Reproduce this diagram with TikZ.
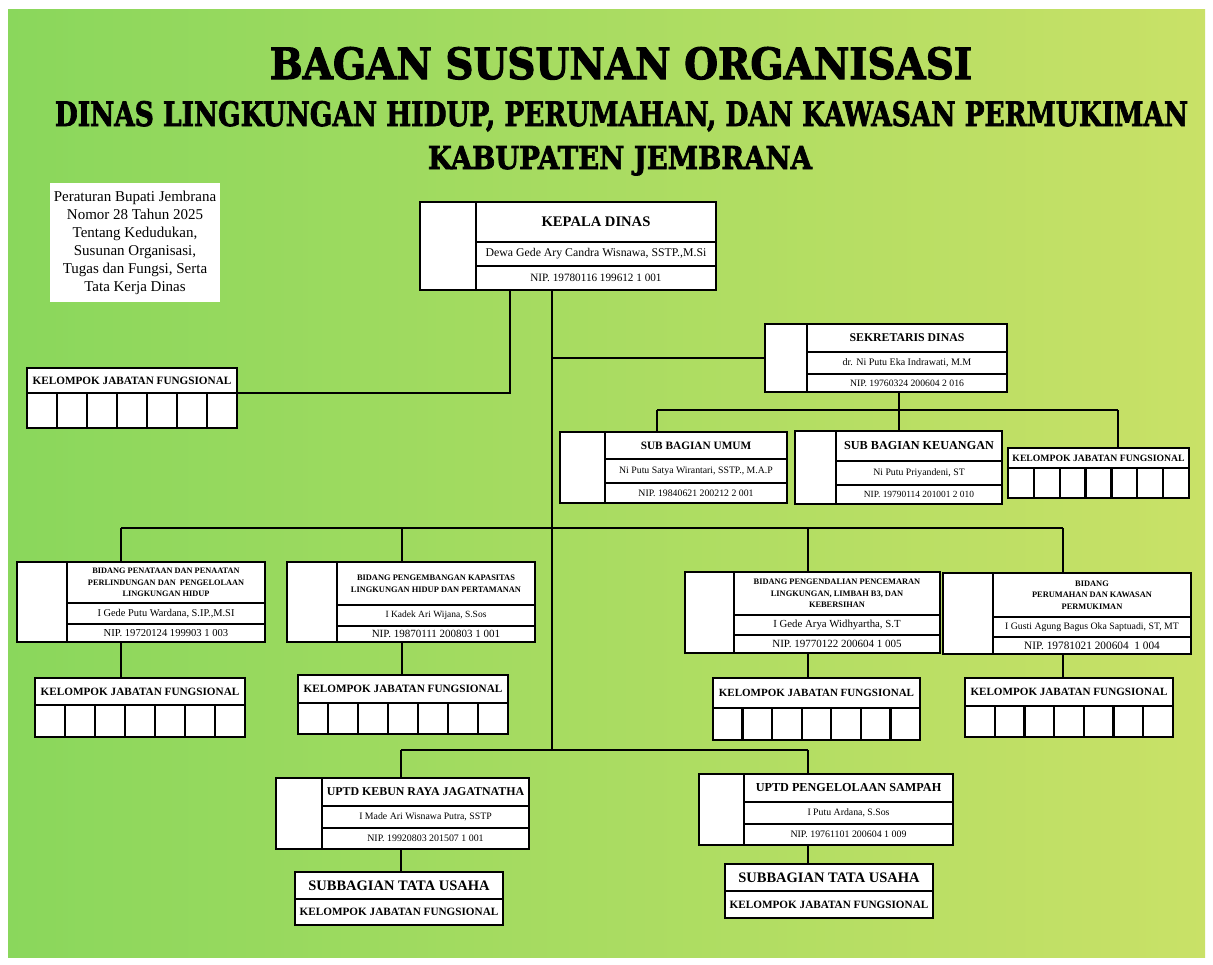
\documentclass[tikz,border=0pt]{standalone}
\usepackage{fontspec}
\usepackage{graphicx}
\setmainfont{Liberation Serif}
\newfontfamily\titlefont{DejaVu Serif}[BoldFeatures={FakeBold=2.5}]
\definecolor{bgL}{RGB}{138,215,92}
\definecolor{bgR}{RGB}{201,225,103}
\newcommand\fsz[2]{\fontsize{#1}{#2}\selectfont}
\tikzset{
  cell/.style={draw=black, fill=white, line width=2.4pt, inner sep=1pt, outer sep=0pt, anchor=north west, align=center, text=black},
  conn/.style={draw=black, line width=2pt},
  titletext/.style={anchor=base, inner sep=0pt, text=black},
  notebox/.style={fill=white, inner sep=0pt, align=center, text=black}
}
\newcommand\photo[5]{\node[cell,minimum width=#4,minimum height=#5] (#1) at (#2,#3) {};}
\newcommand\orgrow[7][]{\node[cell,minimum width=#5,minimum height=#6,#1] (#2) at (#3,#4) {#7};}
\newcommand\kjf[7]{%
  \node[cell,minimum width=#4,minimum height=#5,font=\fsz{#7}{#7}\bfseries] (#1-t) at (#2,#3) {KELOMPOK JABATAN FUNGSIONAL};
  \foreach \k in {0,...,6}{\node[cell,minimum width=#4/7,minimum height=#6] (#1-c\k) at ({#2+\k*#4/7},{#3+#5}) {};}
}
\begin{document}
\begin{tikzpicture}[x=1pt,y=-1pt]
\fill[white] (0,0) rectangle (1213,964);
\useasboundingbox (0,0) rectangle (1213,964);
\shade[left color=bgL, right color=bgR] (8,9) rectangle (1205,957);

% titles
\node[titletext] (t1) at (621,79) {\resizebox{702pt}{32pt}{\titlefont\bfseries BAGAN SUSUNAN ORGANISASI}};
\node[titletext] (t2) at (621.5,126) {\resizebox{1133pt}{25pt}{\titlefont\bfseries DINAS LINGKUNGAN HIDUP, PERUMAHAN, DAN KAWASAN PERMUKIMAN}};
\node[titletext] (t3) at (620,169) {\resizebox{384pt}{23pt}{\titlefont\bfseries KABUPATEN JEMBRANA}};

% note
\node[notebox, minimum width=170, minimum height=119, font=\fsz{15}{18}] (note) at (135,242.5)
  {Peraturan Bupati Jembrana\\Nomor 28 Tahun 2025\\Tentang Kedudukan,\\Susunan Organisasi,\\Tugas dan Fungsi, Serta\\Tata Kerja Dinas};

% Kepala Dinas
\photo{kd-p}{420}{202}{56}{88}
\orgrow[font=\fsz{14.6}{16}\bfseries]{kd-t}{476}{202}{240}{40}{KEPALA DINAS}
\orgrow[font=\fsz{11.8}{13}]{kd-n}{476}{242}{240}{24}{Dewa Gede Ary Candra Wisnawa, SSTP.,M.Si}
\orgrow[font=\fsz{11.2}{13}]{kd-i}{476}{266}{240}{24}{NIP. 19780116 199612 1 001}

% Sekretaris
\photo{sek-p}{765}{324}{42}{68}
\orgrow[font=\fsz{11.8}{13}\bfseries]{sek-t}{807}{324}{200}{28}{SEKRETARIS DINAS}
\orgrow[font=\fsz{10}{12}]{sek-n}{807}{352}{200}{22}{dr. Ni Putu Eka Indrawati, M.M}
\orgrow[font=\fsz{9.7}{11}]{sek-i}{807}{374}{200}{18}{NIP. 19760324 200604 2 016}

% Sub Bagian Umum
\photo{sbu-p}{560}{432}{45}{71}
\orgrow[font=\fsz{11.3}{13}\bfseries]{sbu-t}{605}{432}{182}{27}{SUB BAGIAN UMUM}
\orgrow[font=\fsz{9.8}{11}]{sbu-n}{605}{459}{182}{24}{Ni Putu Satya Wirantari, SSTP., M.A.P}
\orgrow[font=\fsz{9.8}{11}]{sbu-i}{605}{483}{182}{20}{NIP. 19840621 200212 2 001}

% Sub Bagian Keuangan
\photo{sbk-p}{795}{431}{41}{73}
\orgrow[font=\fsz{12.2}{14}\bfseries]{sbk-t}{836}{431}{166}{30}{SUB BAGIAN KEUANGAN}
\orgrow[font=\fsz{9.8}{11}]{sbk-n}{836}{461}{166}{24}{Ni Putu Priyandeni, ST}
\orgrow[font=\fsz{9.4}{11}]{sbk-i}{836}{485}{166}{19}{NIP. 19790114 201001 2 010}

\kjf{kjfs}{1008}{448}{181}{20}{30}{9.7}
\kjf{kjf0}{27}{368}{210}{25}{35}{11.2}

% Bidang 1
\photo{b1-p}{17}{562}{50}{80}
\orgrow[font=\fsz{8.3}{11.5}\bfseries]{b1-t}{67}{562}{198}{41}{BIDANG PENATAAN DAN PENAATAN\\PERLINDUNGAN DAN \ PENGELOLAAN\\LINGKUNGAN HIDUP}
\orgrow[font=\fsz{10.4}{12}]{b1-n}{67}{603}{198}{21}{I Gede Putu Wardana, S.IP.,M.SI}
\orgrow[font=\fsz{10.6}{12}]{b1-i}{67}{624}{198}{18}{NIP. 19720124 199903 1 003}

% Bidang 2
\photo{b2-p}{287}{562}{50}{80}
\orgrow[font=\fsz{8.4}{12}\bfseries]{b2-t}{337}{562}{198}{43}{BIDANG PENGEMBANGAN KAPASITAS\\LINGKUNGAN HIDUP DAN PERTAMANAN}
\orgrow[font=\fsz{9.5}{11}]{b2-n}{337}{605}{198}{21}{I Kadek Ari Wijana, S.Sos}
\orgrow[font=\fsz{11}{12}]{b2-i}{337}{626}{198}{16}{NIP. 19870111 200803 1 001}

% Bidang 3
\photo{b3-p}{685}{572}{49}{81}
\orgrow[font=\fsz{8.4}{11.5}\bfseries]{b3-t}{734}{572}{206}{43}{BIDANG PENGENDALIAN PENCEMARAN\\LINGKUNGAN, LIMBAH B3, DAN\\KEBERSIHAN}
\orgrow[font=\fsz{10.8}{12}]{b3-n}{734}{615}{206}{20}{I Gede Arya Widhyartha, S.T}
\orgrow[font=\fsz{11}{12}]{b3-i}{734}{635}{206}{18}{NIP. 19770122 200604 1 005}

% Bidang 4
\photo{b4-p}{943}{573}{50}{81}
\orgrow[font=\fsz{8.4}{11.5}\bfseries]{b4-t}{993}{573}{198}{44}{BIDANG\\PERUMAHAN DAN KAWASAN\\PERMUKIMAN}
\orgrow[font=\fsz{9.8}{11}]{b4-n}{993}{617}{198}{20}{I Gusti Agung Bagus Oka Saptuadi, ST, MT}
\orgrow[font=\fsz{11.3}{12}]{b4-i}{993}{637}{198}{17}{NIP. 19781021 200604 \ 1 004}

\kjf{kjf1}{35}{678}{210}{27}{32}{11.2}
\kjf{kjf2}{298}{675}{210}{28}{31}{11.2}
\kjf{kjf3}{713}{678}{207}{30}{32}{11}
\kjf{kjf4}{965}{678}{208}{28}{31}{11.1}

% UPTD 1
\photo{up1-p}{276}{778}{46}{71}
\orgrow[font=\fsz{11.9}{13}\bfseries]{up1-t}{322}{778}{207}{28}{UPTD KEBUN RAYA JAGATNATHA}
\orgrow[font=\fsz{9.8}{11}]{up1-n}{322}{806}{207}{22}{I Made Ari Wisnawa Putra, SSTP}
\orgrow[font=\fsz{9.9}{11}]{up1-i}{322}{828}{207}{21}{NIP. 19920803 201507 1 001}
\orgrow[font=\fsz{14.5}{16}\bfseries]{sb1-t}{295}{872}{208}{27}{SUBBAGIAN TATA USAHA}
\orgrow[font=\fsz{11.2}{12}\bfseries]{sb1-k}{295}{899}{208}{26}{KELOMPOK JABATAN FUNGSIONAL}

% UPTD 2
\photo{up2-p}{699}{774}{45}{71}
\orgrow[font=\fsz{12.2}{14}\bfseries]{up2-t}{744}{774}{209}{28}{UPTD PENGELOLAAN SAMPAH}
\orgrow[font=\fsz{9.8}{11}]{up2-n}{744}{802}{209}{22}{I Putu Ardana, S.Sos}
\orgrow[font=\fsz{9.9}{11}]{up2-i}{744}{824}{209}{21}{NIP. 19761101 200604 1 009}
\orgrow[font=\fsz{14.5}{16}\bfseries]{sb2-t}{725}{864}{208}{27}{SUBBAGIAN TATA USAHA}
\orgrow[font=\fsz{11.2}{12}\bfseries]{sb2-k}{725}{891}{208}{27}{KELOMPOK JABATAN FUNGSIONAL}

% junction coordinates
\coordinate (jT) at (552,750);
\coordinate (jK) at (510,393);
\coordinate (s1) at (657,410);
\coordinate (s2) at (899,410);
\coordinate (s3) at (1118,410);
\coordinate (m1) at (121,528);
\coordinate (m2) at (402,528);
\coordinate (m3) at (808,528);
\coordinate (m4) at (1063,528);
\coordinate (u1) at (401,750);
\coordinate (u2) at (808,750);

% connectors
\draw[conn] (kd-i.south -| jT) -- (jT);
\draw[conn] (kd-i.south -| jK) -- (jK) -- (kjf0-t.south east);
\draw[conn] (sek-p.west -| jT) -- (sek-p.west);
\draw[conn] (sek-i.south -| s2) -- (s2);
\draw[conn] (s1) -- (s3);
\draw[conn] (s1) -- (sbu-t.north -| s1);
\draw[conn] (s2) -- (sbk-t.north -| s2);
\draw[conn] (s3) -- (kjfs-t.north -| s3);
\draw[conn] (m1) -- (m4);
\draw[conn] (m1) -- (b1-t.north -| m1);
\draw[conn] (m2) -- (b2-t.north -| m2);
\draw[conn] (m3) -- (b3-t.north -| m3);
\draw[conn] (m4) -- (b4-t.north -| m4);
\draw[conn] (b1-i.south -| m1) -- (kjf1-t.north -| m1);
\draw[conn] (b2-i.south -| m2) -- (kjf2-t.north -| m2);
\draw[conn] (b3-i.south -| m3) -- (kjf3-t.north -| m3);
\draw[conn] (b4-i.south -| m4) -- (kjf4-t.north -| m4);
\draw[conn] (u1) -- (u2);
\draw[conn] (u1) -- (up1-t.north -| u1);
\draw[conn] (u2) -- (up2-t.north -| u2);
\draw[conn] (up1-i.south -| u1) -- (sb1-t.north -| u1);
\draw[conn] (up2-i.south -| u2) -- (sb2-t.north -| u2);
\end{tikzpicture}
\end{document}
